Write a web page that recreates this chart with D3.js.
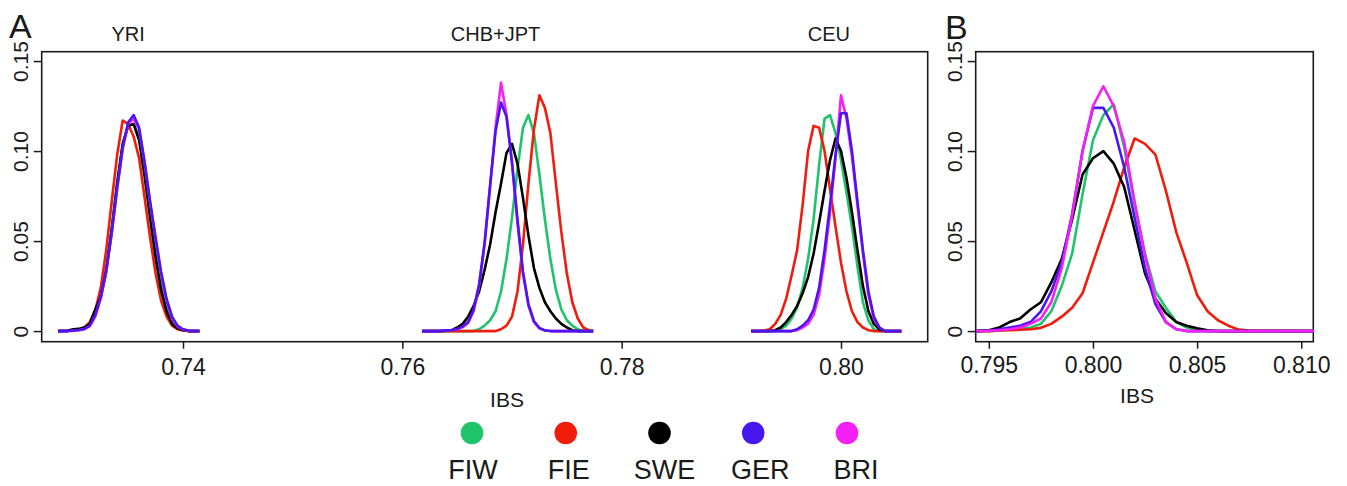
<!DOCTYPE html>
<html>
<head>
<meta charset="utf-8">
<script src="https://cdn.jsdelivr.net/npm/d3@7"></script>
<style>
  body { margin: 0; background: #fff; }
  text { font-family: 'Liberation Sans', Arial, sans-serif; fill: #1a1a1a; }
</style>
</head>
<body>
<script>
// populations, legend order
const seriesNames = ['FIW', 'FIE', 'SWE', 'GER', 'BRI'];
const seriesColors = ['#1fc46a', '#f01c0c', '#000000', '#4a16f0', '#f420f4'];

const groupTitles = ['YRI', 'CHB+JPT', 'CEU'];
const groupTitleAt = [0.7350, 0.7685, 0.7989];

const xTicksA = [0.74, 0.76, 0.78, 0.80];
const xTickLabelsA = ['0.74', '0.76', '0.78', '0.80'];
const xTicksB = [0.795, 0.800, 0.805, 0.810];
const xTickLabelsB = ['0.795', '0.800', '0.805', '0.810'];
const yTicks = [0, 0.05, 0.10, 0.15];
const yTickLabels = ['0', '0.05', '0.10', '0.15'];

// --- panel A, YRI reference
const gridYRI = [0.7286, 0.7295, 0.7300, 0.7305, 0.7310, 0.7315, 0.7320, 0.7325, 0.7330, 0.7335, 0.7340, 0.7345, 0.7350,
  0.7355, 0.7360, 0.7365, 0.7370, 0.7375, 0.7380, 0.7385, 0.7390, 0.7395, 0.7400, 0.7405, 0.7415];
const yriFIW = [0, 0, 0.0003, 0.0007, 0.0015, 0.004, 0.010, 0.020, 0.036, 0.058, 0.083, 0.104, 0.114, 0.115, 0.108, 0.090, 0.068, 0.047, 0.029, 0.015, 0.006, 0.002, 0.0006, 0, 0];
const yriFIE = [0, 0.0002, 0.0005, 0.001, 0.002, 0.005, 0.0115, 0.024, 0.045, 0.072, 0.098, 0.117, 0.115, 0.108, 0.096, 0.074, 0.052, 0.032, 0.017, 0.008, 0.003, 0.001, 0.0003, 0, 0];
const yriSWE = [0, 0.0003, 0.001, 0.0012, 0.002, 0.004, 0.012, 0.019, 0.033, 0.056, 0.082, 0.104, 0.114, 0.115, 0.106, 0.086, 0.063, 0.041, 0.023, 0.011, 0.004, 0.0015, 0.0005, 0, 0];
const yriGER = [0, 0, 0.0003, 0.0006, 0.0012, 0.003, 0.009, 0.019, 0.034, 0.055, 0.080, 0.102, 0.116, 0.120, 0.113, 0.094, 0.072, 0.052, 0.033, 0.018, 0.008, 0.003, 0.001, 0.0003, 0];
const yriBRI = [0, 0, 0.0002, 0.0005, 0.001, 0.0028, 0.008, 0.018, 0.033, 0.054, 0.079, 0.101, 0.115, 0.118, 0.112, 0.093, 0.071, 0.051, 0.032, 0.017, 0.007, 0.0025, 0.0008, 0.0002, 0];

// --- panel A, CHB+JPT reference
const gridCHB = [0.7618, 0.7625, 0.7630, 0.7635, 0.7640, 0.7645, 0.7650, 0.7655, 0.7660, 0.7665, 0.7670, 0.7675, 0.7680,
  0.7685, 0.7690, 0.7695, 0.7700, 0.7705, 0.7710, 0.7715, 0.7720, 0.7725, 0.7730, 0.7735, 0.7740, 0.7745, 0.7750,
  0.7755, 0.7760, 0.7765, 0.7770, 0.7774];
const chbFIW = [0, 0, 0, 0, 0, 0, 0, 0, 0, 0, 0.001, 0.003, 0.006, 0.011, 0.022, 0.040, 0.063, 0.090, 0.113, 0.120, 0.110, 0.087, 0.062, 0.040, 0.023, 0.012, 0.006, 0.003, 0.001, 0, 0, 0];
const chbFIE = [0, 0, 0, 0, 0, 0, 0, 0, 0, 0, 0, 0, 0, 0, 0.001, 0.003, 0.008, 0.022, 0.048, 0.082, 0.112, 0.131, 0.124, 0.110, 0.082, 0.055, 0.032, 0.016, 0.007, 0.002, 0.0005, 0];
const chbSWE = [0, 0, 0, 0, 0.0002, 0.0005, 0.002, 0.004, 0.008, 0.014, 0.022, 0.034, 0.048, 0.066, 0.082, 0.099, 0.104, 0.093, 0.074, 0.053, 0.035, 0.024, 0.016, 0.011, 0.007, 0.004, 0.002, 0.0005, 0, 0, 0, 0];
const chbGER = [0, 0, 0, 0.0002, 0.0004, 0.0006, 0.0012, 0.0025, 0.005, 0.012, 0.026, 0.049, 0.081, 0.111, 0.127, 0.119, 0.094, 0.062, 0.033, 0.015, 0.0056, 0.0017, 0.0004, 0, 0, 0, 0, 0, 0, 0, 0, 0];
const chbBRI = [0, 0, 0, 0.0001, 0.0003, 0.0005, 0.001, 0.0022, 0.0045, 0.011, 0.025, 0.048, 0.080, 0.113, 0.138, 0.120, 0.093, 0.060, 0.032, 0.014, 0.005, 0.0015, 0.0003, 0, 0, 0, 0, 0, 0, 0, 0, 0];

// --- panel A, CEU reference
const gridCEU = [0.7918, 0.7925, 0.7930, 0.7935, 0.7940, 0.7945, 0.7950, 0.7955, 0.7960, 0.7965, 0.7970, 0.7975, 0.7980,
  0.7985, 0.7990, 0.7995, 0.8000, 0.8005, 0.8010, 0.8015, 0.8020, 0.8025, 0.8030, 0.8035, 0.8040, 0.8045, 0.8050, 0.8055];
const ceuFIW = [0, 0, 0, 0, 0, 0.001, 0.003, 0.007, 0.013, 0.024, 0.040, 0.062, 0.092, 0.118, 0.120, 0.110, 0.095, 0.077, 0.058, 0.036, 0.016, 0.006, 0.001, 0, 0, 0, 0, 0];
const ceuFIE = [0, 0, 0.0003, 0.001, 0.004, 0.009, 0.018, 0.031, 0.045, 0.070, 0.100, 0.114, 0.113, 0.100, 0.079, 0.058, 0.038, 0.022, 0.011, 0.005, 0.002, 0.0005, 0, 0, 0, 0, 0, 0];
const ceuSWE = [0, 0, 0, 0, 0.0005, 0.002, 0.005, 0.009, 0.014, 0.021, 0.030, 0.043, 0.060, 0.078, 0.095, 0.107, 0.100, 0.085, 0.066, 0.045, 0.025, 0.011, 0.004, 0.001, 0, 0, 0, 0];
const ceuGER = [0, 0, 0, 0, 0, 0, 0, 0, 0.001, 0.003, 0.006, 0.012, 0.024, 0.045, 0.070, 0.098, 0.121, 0.121, 0.100, 0.072, 0.045, 0.022, 0.008, 0.002, 0, 0, 0, 0];
const ceuBRI = [0, 0, 0, 0, 0, 0, 0, 0, 0.0005, 0.002, 0.004, 0.009, 0.020, 0.040, 0.066, 0.096, 0.131, 0.118, 0.097, 0.070, 0.043, 0.020, 0.007, 0.002, 0, 0, 0, 0];

// --- panel B
const gridB = [0.7944, 0.7950, 0.7955, 0.7960, 0.7965, 0.7970, 0.7975, 0.7980, 0.7985, 0.7990, 0.7995, 0.8000, 0.8005,
  0.8010, 0.8015, 0.8020, 0.8025, 0.8030, 0.8035, 0.8040, 0.8045, 0.8050, 0.8055, 0.8060, 0.8065, 0.8070, 0.8075, 0.8106];
const bFIW = [0, 0, 0.0003, 0.0008, 0.0015, 0.002, 0.004, 0.011, 0.025, 0.043, 0.076, 0.106, 0.120, 0.126, 0.102, 0.070, 0.043, 0.022, 0.013, 0.005, 0.002, 0.0005, 0, 0, 0, 0, 0, 0];
const bFIE = [0, 0, 0.0003, 0.0005, 0.0007, 0.001, 0.0018, 0.004, 0.008, 0.013, 0.021, 0.038, 0.055, 0.072, 0.091, 0.107, 0.104, 0.098, 0.078, 0.055, 0.038, 0.020, 0.011, 0.006, 0.003, 0.0008, 0.0003, 0];
const bSWE = [0, 0.0005, 0.002, 0.005, 0.007, 0.012, 0.016, 0.027, 0.040, 0.062, 0.087, 0.096, 0.100, 0.093, 0.080, 0.056, 0.032, 0.018, 0.010, 0.005, 0.003, 0.0015, 0.0005, 0, 0, 0, 0, 0];
const bGER = [0, 0.0003, 0.001, 0.002, 0.003, 0.005, 0.011, 0.022, 0.038, 0.065, 0.100, 0.124, 0.124, 0.113, 0.091, 0.063, 0.035, 0.015, 0.005, 0.001, 0, 0, 0, 0, 0, 0, 0, 0];
const bBRI = [0, 0.0002, 0.0005, 0.001, 0.002, 0.004, 0.007, 0.016, 0.035, 0.064, 0.100, 0.125, 0.136, 0.125, 0.105, 0.072, 0.042, 0.018, 0.005, 0.001, 0, 0, 0, 0, 0, 0, 0, 0];

const groupsA = [
  { grid: gridYRI, values: [yriFIW, yriFIE, yriSWE, yriGER, yriBRI] },
  { grid: gridCHB, values: [chbFIW, chbFIE, chbSWE, chbGER, chbBRI] },
  { grid: gridCEU, values: [ceuFIW, ceuFIE, ceuSWE, ceuGER, ceuBRI] }
];
const groupB = { grid: gridB, values: [bFIW, bFIE, bSWE, bGER, bBRI] };

const W = 1347, H = 486;
const svg = d3.select('body').append('svg')
    .attr('width', W)
    .attr('height', H)
    .style('background', '#fff');

const plotTop = 51.7, plotBottom = 341.7;
const xA = d3.scaleLinear().domain([0.727115, 0.807906]).range([41.7, 927.7]);
const xB = d3.scaleLinear().domain([0.79437, 0.81058]).range([975.7, 1313.3]);
const y = d3.scaleLinear().domain([-0.0059, 0.1552]).range([plotBottom, plotTop]);

function drawPanel(x, ticks, tickLabels, labPad, yLabOff) {
  const [x0, x1] = x.range();
  svg.append('rect')
      .attr('x', x0).attr('y', plotTop)
      .attr('width', x1 - x0).attr('height', plotBottom - plotTop)
      .attr('fill', 'none').attr('stroke', '#1a1a1a').attr('stroke-width', 1.6);

  const gx = svg.append('g').attr('transform', `translate(0,${plotBottom})`)
      .call(d3.axisBottom(x).tickValues(ticks).tickFormat((d, i) => tickLabels[i]).tickSize(7).tickPadding(labPad));
  gx.select('.domain').remove();
  gx.selectAll('line').attr('stroke', '#1a1a1a').attr('stroke-width', 1.5);
  gx.selectAll('text').attr('font-size', 23).attr('fill', '#1a1a1a');

  const gy = svg.append('g').attr('transform', `translate(${x0},0)`)
      .call(d3.axisLeft(y).tickValues(yTicks).tickFormat((d, i) => yTickLabels[i]).tickSize(8));
  gy.select('.domain').remove();
  gy.selectAll('line').attr('stroke', '#1a1a1a').attr('stroke-width', 1.5);
  gy.selectAll('text')
      .attr('font-size', 21).attr('fill', '#1a1a1a')
      .attr('x', 0).attr('y', yLabOff).attr('dy', 0)
      .attr('transform', 'rotate(-90)')
      .style('text-anchor', 'middle');
}

drawPanel(xA, xTicksA, xTickLabelsA, 10, -14);
drawPanel(xB, xTicksB, xTickLabelsB, 8, -13.7);

function drawCurves(x, group, order) {
  const line = d3.line()
      .x(d => x(d[0]))
      .y(d => y(d[1]));
  order.forEach(i => {
    const pts = group.grid.map((g, k) => [g, group.values[i][k]]);
    svg.append('path')
        .datum(pts)
        .attr('d', line)
        .attr('fill', 'none')
        .attr('stroke', seriesColors[i])
        .attr('stroke-width', 2.6)
        .attr('stroke-linejoin', 'round');
  });
}

groupsA.forEach(g => drawCurves(xA, g, [0, 1, 2, 4, 3]));
drawCurves(xB, groupB, [0, 1, 2, 3, 4]);

// panel letters and group titles
svg.append('text').attr('x', 9).attr('y', 38).attr('font-size', 34).text('A');
svg.append('text').attr('x', 945).attr('y', 39).attr('font-size', 34).text('B');
svg.selectAll('.gtitle')
    .data(groupTitles)
    .enter()
  .append('text')
    .attr('class', 'gtitle')
    .attr('x', (d, i) => xA(groupTitleAt[i]))
    .attr('y', 41)
    .attr('font-size', 20)
    .attr('text-anchor', 'middle')
    .text(d => d);

svg.append('text').attr('x', 507).attr('y', 407).attr('font-size', 21)
    .attr('text-anchor', 'middle').text('IBS');
svg.append('text').attr('x', 1137).attr('y', 403).attr('font-size', 21)
    .attr('text-anchor', 'middle').text('IBS');

// legend
const dotX = d3.scalePoint().domain(seriesNames).range([472, 847]);
const labX = d3.scalePoint().domain(seriesNames).range([473, 856]);
svg.selectAll('.dot')
    .data(seriesNames)
    .enter()
  .append('circle')
    .attr('class', 'dot')
    .attr('cx', d => dotX(d))
    .attr('cy', 433)
    .attr('r', 11.3)
    .attr('fill', (d, i) => seriesColors[i]);
svg.selectAll('.lab')
    .data(seriesNames)
    .enter()
  .append('text')
    .attr('class', 'lab')
    .attr('x', d => labX(d))
    .attr('y', 479)
    .attr('font-size', 27)
    .attr('text-anchor', 'middle')
    .text(d => d);
</script>
</body>
</html>
